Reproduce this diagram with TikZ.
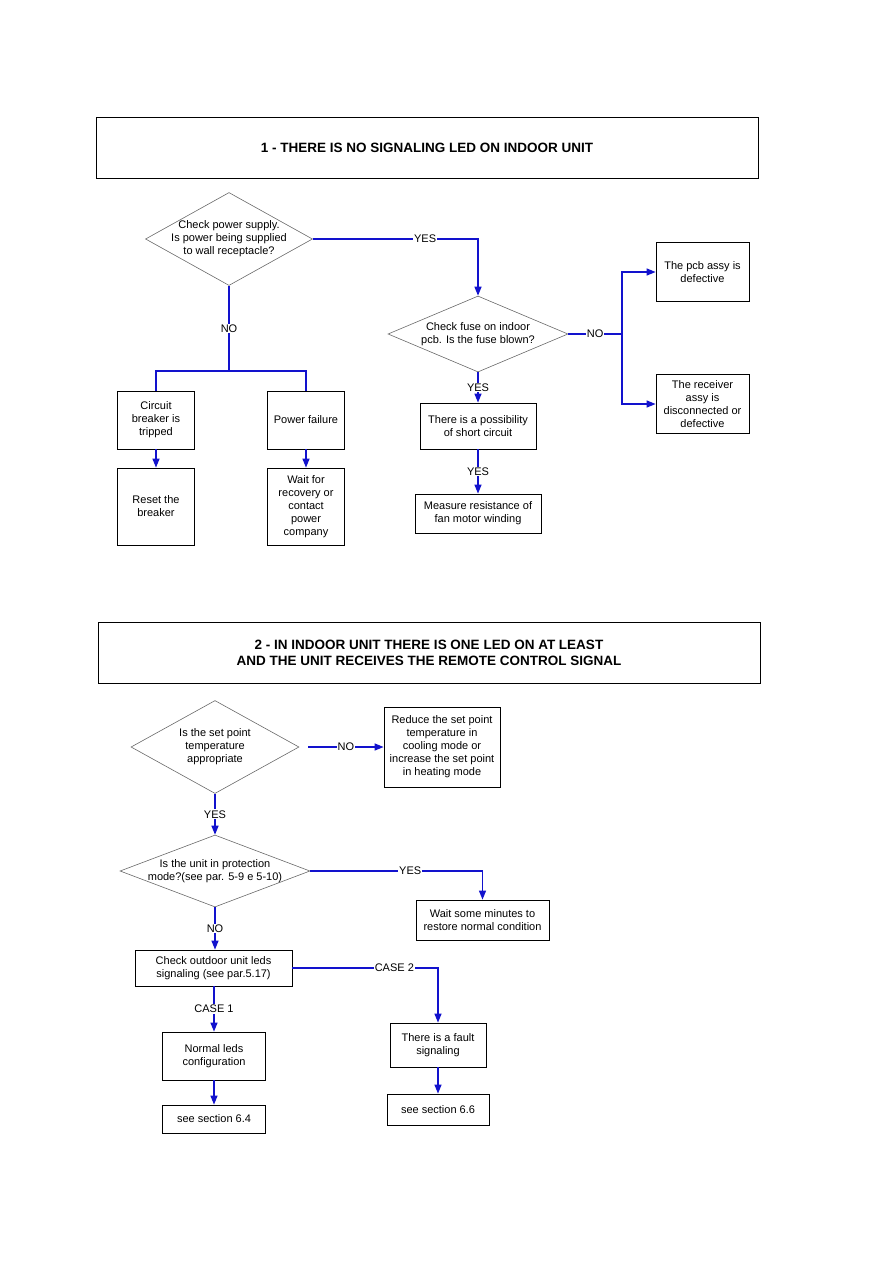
\documentclass[tikz,border=0pt]{standalone}
\usepackage{fontspec}
\setmainfont{Liberation Sans}
\usetikzlibrary{shapes.geometric,arrows.meta}
\definecolor{conn}{RGB}{18,18,205}
\definecolor{dgray}{RGB}{105,105,105}
\tikzset{
  box/.style={draw=black,line width=0.8pt,rectangle,inner sep=1pt,align=center,font=\fontsize{11}{13}\selectfont},
  title/.style={draw=black,line width=0.8pt,rectangle,inner sep=1pt,align=center,font=\fontsize{13.5}{16}\selectfont\bfseries},
  dec/.style={draw=dgray,line width=0.6pt,diamond,inner sep=0pt},
  dtext/.style={align=center,font=\fontsize{11}{13}\selectfont,inner sep=0pt},
  link/.style={draw=conn,line width=1.3pt},
  arr/.style={link,-{Triangle[length=9pt,width=7pt]}},
  lbl/.style={fill=white,inner sep=1pt,font=\fontsize{11}{12}\selectfont,text=black}
}
\begin{document}
\begin{tikzpicture}[x=1pt,y=-1pt]
\useasboundingbox (0,0) rectangle (893,1263);
% ---------- part 1 ----------
\node[title,minimum width=662,minimum height=61] (t1) at (427,147.5) {1 - THERE IS NO SIGNALING LED ON INDOOR UNIT};
\node[dec,minimum width=167,minimum height=93] (d1) at (229,239) {};
\node[dtext] (d1t) at (d1) {Check power supply.\\Is power being supplied\\to wall receptacle?};
\node[dec,minimum width=180,minimum height=76] (d2) at (478,334) {};
\node[dtext] (d2t) at (d2) {Check fuse on indoor\\pcb. Is the fuse blown?};
\node[box,minimum width=93,minimum height=59] (pcb) at (702.5,272) {The pcb assy is\\defective};
\node[box,minimum width=93,minimum height=59] (recv) at (702.5,404) {The receiver\\assy is\\disconnected or\\defective};
\node[box,minimum width=116,minimum height=46] (short) at (478,426) {There is a possibility\\of short circuit};
\node[box,minimum width=126,minimum height=39] (meas) at (478,513.5) {Measure resistance of\\fan motor winding};
\node[box,minimum width=77,minimum height=58] (cb) at (156,420) {Circuit\\breaker is\\tripped};
\node[box,minimum width=77,minimum height=58] (pf) at (306,420) {Power failure};
\node[box,minimum width=77,minimum height=77] (reset) at (156,506.5) {Reset the\\breaker};
\node[box,minimum width=77,minimum height=77] (wait) at (306,506.5) {Wait for\\recovery or\\contact\\power\\company};
\coordinate (j1) at (229,371);
\coordinate (j2) at (622,334);
\draw[arr] (d1.east) -| node[lbl,pos=0.34]{YES} (d2.north);
\draw[link] (d1.south) -- node[lbl]{NO} (j1);
\draw[link] (cb.north) |- (j1);
\draw[link] (pf.north) |- (j1);
\draw[arr] (cb.south) -- (reset.north);
\draw[arr] (pf.south) -- (wait.north);
\draw[link] (d2.east) -- node[lbl]{NO} (j2);
\draw[arr] (j2) |- (pcb.west);
\draw[arr] (j2) |- (recv.west);
\draw[arr] (d2.south) -- node[lbl]{YES} (short.north);
\draw[arr] (short.south) -- node[lbl]{YES} (meas.north);
% ---------- part 2 ----------
\node[title,minimum width=662,minimum height=61] (t2) at (429,652.5) {2 - IN INDOOR UNIT THERE IS ONE LED ON AT LEAST\\AND THE UNIT RECEIVES THE REMOTE CONTROL SIGNAL};
\node[dec,minimum width=168,minimum height=93] (d3) at (215,747) {};
\node[dtext] (d3t) at (d3) {Is the set point\\temperature\\appropriate};
\node[box,minimum width=116,minimum height=80] (reduce) at (442,747) {Reduce the set point\\temperature in\\cooling mode or\\increase the set point\\in heating mode};
\node[dec,minimum width=190,minimum height=72] (d4) at (215,871) {};
\node[dtext] (d4t) at (d4) {Is the unit in protection\\mode?(see par. 5-9 e 5-10)};
\node[box,minimum width=133,minimum height=40] (waitm) at (482.5,920) {Wait some minutes to\\restore normal condition};
\node[box,minimum width=157,minimum height=36] (chk) at (213.5,968) {Check outdoor unit leds\\signaling (see par.5.17)};
\node[box,minimum width=96,minimum height=44] (fault) at (438,1045) {There is a fault\\signaling};
\node[box,minimum width=102,minimum height=31] (s66) at (438,1109.5) {see section 6.6};
\node[box,minimum width=103,minimum height=48] (normal) at (214,1056) {Normal leds\\configuration};
\node[box,minimum width=103,minimum height=28] (s64) at (214,1119) {see section 6.4};
\coordinate (n3) at ([xshift=9pt]d3.east);
\draw[arr] (n3) -- node[lbl]{NO} (n3 -| reduce.west);
\draw[arr] (d3.south) -- node[lbl]{YES} (d4.north);
\draw[arr] (d4.east) -| node[lbl,pos=0.29]{YES} (waitm.north);
\draw[arr] (d4.south) -- node[lbl]{NO} (d4.south |- chk.north);
\draw[arr] (chk.east) -| node[lbl,pos=0.35]{CASE 2} (fault.north);
\draw[arr] (normal.north |- chk.south) -- node[lbl]{CASE 1} (normal.north);
\draw[arr] (normal.south) -- (s64.north);
\draw[arr] (fault.south) -- (s66.north);
\end{tikzpicture}
\end{document}
